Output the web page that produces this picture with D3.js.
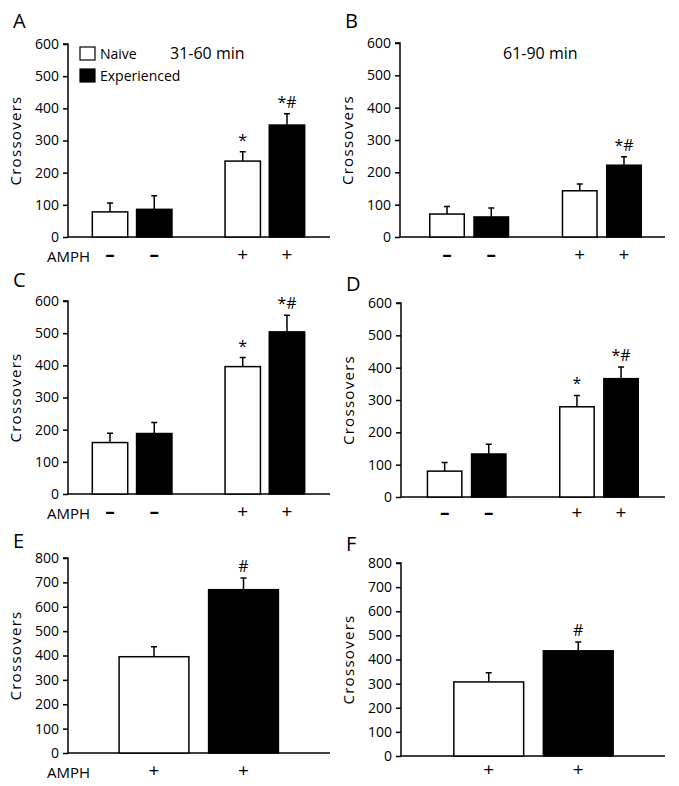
<!DOCTYPE html>
<html><head><meta charset="utf-8">
<script src="https://cdn.jsdelivr.net/npm/d3@7"></script>
<style>
html,body{margin:0;padding:0;background:#fff;}
svg{display:block;font-family:"Open Sans",sans-serif;}
</style></head>
<body><svg id="chart" width="679" height="786"></svg>
<script>
// ---- data ----
const groups4 = ["Naive-", "Exp-", "Naive+", "Exp+"];
const groups2 = ["Naive+", "Exp+"];
const amph4 = ["–", "–", "+", "+"];
const amph2 = ["+", "+"];
const fill4 = ["white", "black", "white", "black"];
const fill2 = ["white", "black"];
const ticks600 = [0, 100, 200, 300, 400, 500, 600];
const ticks800 = [0, 100, 200, 300, 400, 500, 600, 700, 800];

const valuesA = [78, 86, 236, 348];
const errorsA = [28, 42, 29, 35];
const sigA = ["", "", "*", "*#"];

const valuesB = [71, 62, 143, 222];
const errorsB = [23, 28, 21, 26];
const sigB = ["", "", "", "*#"];

const valuesC = [160, 188, 396, 504];
const errorsC = [29, 34, 28, 52];
const sigC = ["", "", "*", "*#"];

const valuesD = [80, 133, 279, 366];
const errorsD = [27, 30, 35, 36];
const sigD = ["", "", "*", "*#"];

const valuesE = [395, 670];
const errorsE = [41, 48];
const sigE = ["", "#"];

const valuesF = [307, 436];
const errorsF = [38, 37];
const sigF = ["", "#"];

const legendLabels = ["Naive", "Experienced"];
const timeLabels = ["31-60 min", "61-90 min"];

// ---- layout ----
const svg = d3.select("#chart");

function panel(o) {
  const g = svg.append("g");
  const y = d3.scaleLinear().domain([0, o.ticks[o.ticks.length - 1]]).range([o.y0, o.yTop]);
  const domain = o.groups.length === 4 ? [o.groups[0], o.groups[1], "gap", o.groups[2], o.groups[3]] : o.groups;
  const x = d3.scaleBand().domain(domain).range(o.xr)
    .paddingInner(o.pad).paddingOuter(o.pad / 2);

  // axes
  const ya = d3.axisLeft(y).tickValues(o.ticks).tickSize(5).tickPadding(4).tickFormat(d3.format("d"));
  const ag = g.append("g").attr("transform", `translate(${o.ax},0)`).call(ya);
  ag.select(".domain").attr("stroke", "#000").attr("stroke-width", 1.5).attr("d", `M-5,${o.yTop}H0V${o.y0}`);
  ag.selectAll(".tick line").attr("stroke", "#000").attr("stroke-width", 1.5);
  ag.selectAll(".tick text").attr("font-size", 14).attr("fill", "#000")
    .attr("font-family", "'Open Sans',sans-serif");
  g.append("line").attr("x1", o.ax).attr("x2", o.xEnd).attr("y1", o.y0).attr("y2", o.y0)
    .attr("stroke", "#000").attr("stroke-width", 1.5);

  // bars
  const data = o.groups.map((k, i) => ({k, v: o.values[i], e: o.errors[i], f: o.fills[i], s: o.sig[i], a: o.amph[i]}));
  const bw = x.bandwidth();
  g.selectAll(".err").data(data).join("path")
    .attr("d", d => {
      const cx = x(d.k) + bw / 2, t = y(d.v + d.e);
      return `M${cx},${y(d.v)}V${t}M${cx - 3},${t}H${cx + 3}`;
    })
    .attr("stroke", "#000").attr("stroke-width", 1.5).attr("fill", "none");
  g.selectAll(".bar").data(data).join("rect")
    .attr("x", d => x(d.k)).attr("width", bw)
    .attr("y", d => y(d.v)).attr("height", d => y(0) - y(d.v))
    .attr("fill", d => d.f).attr("stroke", "#000").attr("stroke-width", 1.5);
  g.selectAll(".sig").data(data).join("text")
    .attr("x", d => x(d.k) + bw / 2).attr("y", d => y(d.v + d.e) - 6)
    .attr("text-anchor", "middle").attr("font-size", 16).text(d => d.s);
  g.selectAll(".amph").data(data).join("text")
    .attr("x", d => x(d.k) + bw / 2).attr("y", o.y0 + o.signDy)
    .attr("text-anchor", "middle").attr("font-size", 19).attr("font-weight", d => d.a === "–" ? "bold" : "normal")
    .text(d => d.a);
  if (o.showAmph) {
    g.append("text").attr("x", o.ax - 21).attr("y", o.y0 + 25).attr("font-size", 15).text("AMPH");
  }
  // y label
  g.append("text").attr("transform", `translate(${o.ax - 47},${(o.y0 + o.yTop) / 2}) rotate(-90)`)
    .attr("text-anchor", "middle").attr("font-size", 15).attr("letter-spacing", 1.3).text("Crossovers");
  // panel letter
  g.append("text").attr("x", o.ax - 55).attr("y", o.letterY).attr("font-size", 20).text(o.letter);
  return {g, x, y};
}

const pA = panel({letter: "A", letterY: 28, ax: 68, y0: 237, yTop: 44, xEnd: 330, xr: [87.9, 309.1], pad: 0.2, signDy: 24,
  ticks: ticks600, groups: groups4, values: valuesA, errors: errorsA, sig: sigA, fills: fill4, amph: amph4, showAmph: true});
const pB = panel({letter: "B", letterY: 28, ax: 400, y0: 237, yTop: 43, xEnd: 665, xr: [424.9, 646.1], pad: 0.22, signDy: 24,
  ticks: ticks600, groups: groups4, values: valuesB, errors: errorsB, sig: sigB, fills: fill4, amph: amph4, showAmph: false});
const pC = panel({letter: "C", letterY: 287, ax: 68, y0: 494, yTop: 301, xEnd: 330, xr: [87.9, 309.1], pad: 0.2, signDy: 24,
  ticks: ticks600, groups: groups4, values: valuesC, errors: errorsC, sig: sigC, fills: fill4, amph: amph4, showAmph: true});
const pD = panel({letter: "D", letterY: 291, ax: 401, y0: 497, yTop: 303, xEnd: 665, xr: [422.6, 643.1], pad: 0.22, signDy: 22,
  ticks: ticks600, groups: groups4, values: valuesD, errors: errorsD, sig: sigD, fills: fill4, amph: amph4, showAmph: false});
const pE = panel({letter: "E", letterY: 548, ax: 68, y0: 753, yTop: 558, xEnd: 330, xr: [109.25, 288.25], pad: 0.22, signDy: 24,
  ticks: ticks800, groups: groups2, values: valuesE, errors: errorsE, sig: sigE, fills: fill2, amph: amph2, showAmph: true});
const pF = panel({letter: "F", letterY: 551, ax: 401, y0: 756, yTop: 563, xEnd: 665, xr: [444, 623], pad: 0.22, signDy: 20,
  ticks: ticks800, groups: groups2, values: valuesF, errors: errorsF, sig: sigF, fills: fill2, amph: amph2, showAmph: false});

// legend (panel A)
const lg = svg.append("g");
legendLabels.forEach((t, i) => {
  lg.append("rect").attr("x", 80).attr("y", 47 + i * 22).attr("width", 15).attr("height", 13)
    .attr("fill", fill2[i]).attr("stroke", "#000").attr("stroke-width", 1.2);
  lg.append("text").attr("x", 100).attr("y", 59 + i * 22).attr("font-size", 14).text(t);
});
svg.append("text").attr("x", 170).attr("y", 59).attr("font-size", 16).text(timeLabels[0]);
svg.append("text").attr("x", 503).attr("y", 59).attr("font-size", 16).text(timeLabels[1]);
</script></body></html>
